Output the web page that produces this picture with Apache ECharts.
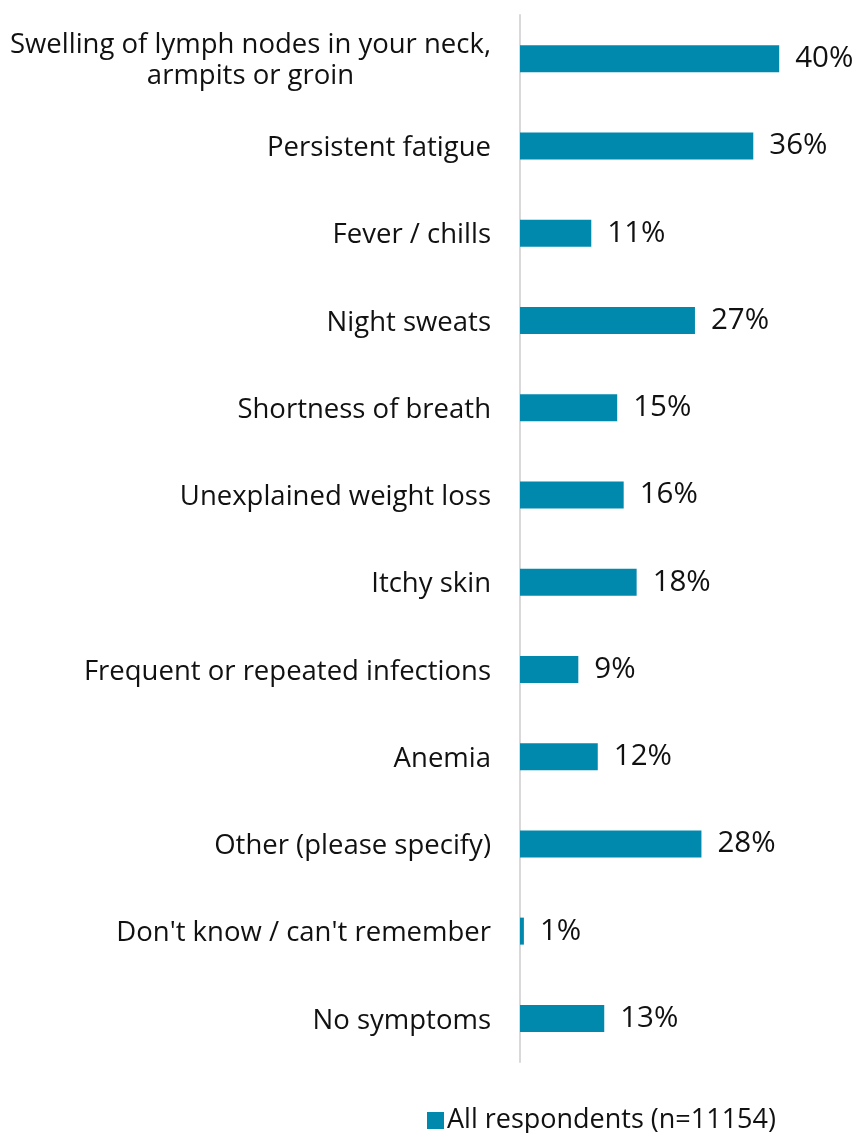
<!DOCTYPE html>
<html>
<head>
<meta charset="utf-8">
<script src="https://cdn.jsdelivr.net/npm/echarts@6/dist/echarts.min.js"></script>
<style>html,body{margin:0;padding:0;background:#fff;}#c{width:858px;height:1133px;}</style>
</head>
<body>
<div id="c"></div>
<script>
const categories = [
  "Swelling of lymph nodes in your neck,\narmpits or groin",
  "Persistent fatigue",
  "Fever / chills",
  "Night sweats",
  "Shortness of breath",
  "Unexplained weight loss",
  "Itchy skin",
  "Frequent or repeated infections",
  "Anemia",
  "Other (please specify)",
  "Don't know / can't remember",
  "No symptoms"
];
const values = [40, 36, 11, 27, 15, 16, 18, 9, 12, 28, 0.6, 13];
const seriesName = "All respondents (n=11154)";

const FONT = "Open Sans";
const FS = 27.5;
const chart = echarts.init(document.getElementById('c'));
chart.setOption({
  animation: false,
  textStyle: { fontFamily: FONT },
  grid: { left: 520, right: 14, top: 15, bottom: 71, containLabel: false },
  xAxis: { type: 'value', min: 0, max: 50, show: false },
  yAxis: {
    type: 'category', inverse: true, data: categories,
    axisLine: { show: true, lineStyle: { color: '#D9D9D9', width: 2 } },
    axisTick: { show: false },
    axisLabel: {
      margin: 29, color: '#111', fontSize: FS, fontFamily: FONT, lineHeight: 31,
      padding: [5, 0, 0, 0],
      formatter: v => v.split('\n').map(s => '{c|' + s + '}').join('\n'),
      rich: { c: { align: 'center', fontSize: FS, fontFamily: FONT, color: '#111', lineHeight: 31 } }
    }
  },
  legend: {
    top: 1102, left: 422, itemWidth: 17, itemHeight: 17, itemGap: 6,
    icon: 'rect',
    textStyle: { fontSize: 27, color: '#111', fontFamily: FONT, padding: [0,0,0,-2] },
    data: [seriesName]
  },
  series: [{
    name: seriesName, type: 'bar', data: values, barWidth: 27,
    itemStyle: { color: '#0088AD' },
    label: {
      show: true, position: 'right', distance: 16, fontSize: 29.5, color: '#111', fontFamily: FONT,
      padding: [3, 0, 0, 0],
      formatter: p => Math.round(p.value) + '%'
    }
  }]
});
</script>
</body>
</html>
